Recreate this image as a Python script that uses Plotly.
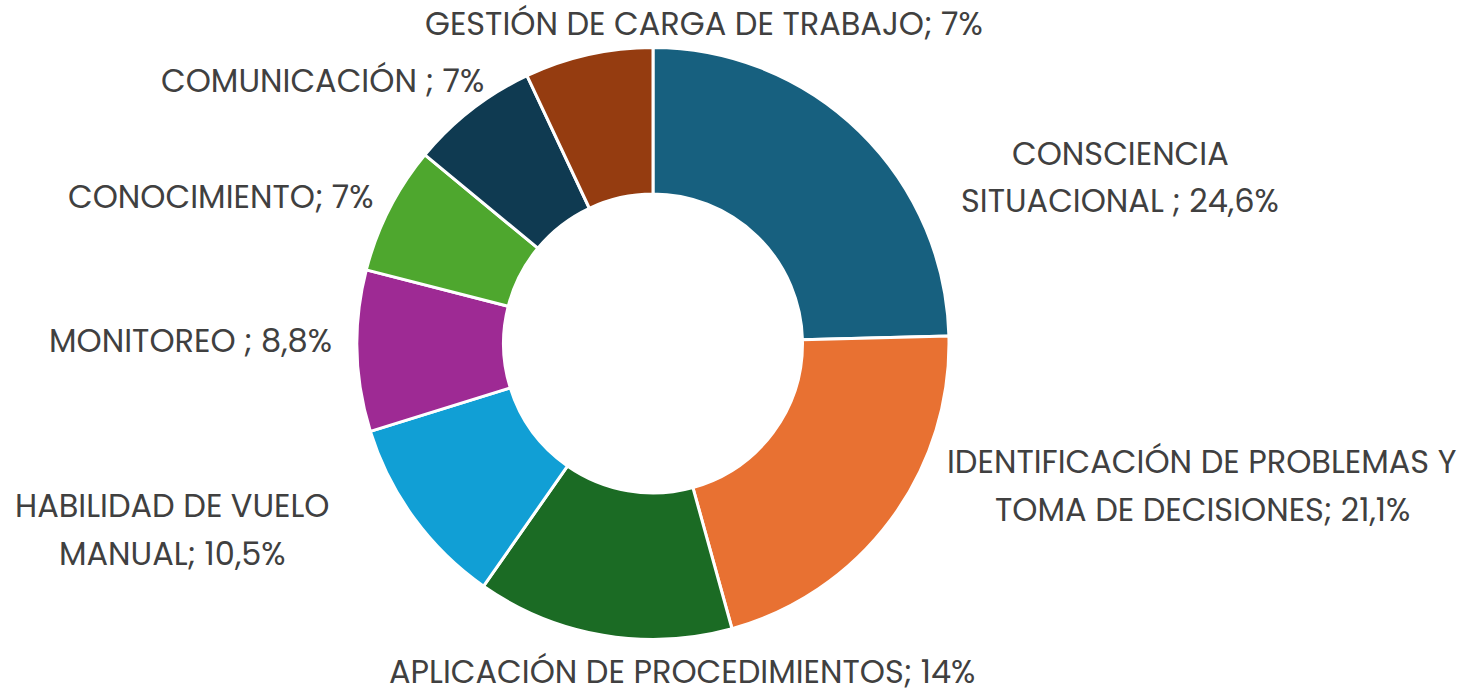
import plotly.graph_objects as go

categories = [
    "CONSCIENCIA<br>SITUACIONAL ",
    "IDENTIFICACIÓN DE PROBLEMAS Y<br>TOMA DE DECISIONES",
    "APLICACIÓN DE PROCEDIMIENTOS",
    "HABILIDAD DE VUELO<br>MANUAL",
    "MONITOREO ",
    "CONOCIMIENTO",
    "COMUNICACIÓN ",
    "GESTIÓN DE CARGA DE TRABAJO",
]
values = [24.6, 21.1, 14.0, 10.5, 8.8, 7.0, 7.0, 7.0]
colors = ["#17607F", "#E87132", "#1B6B24", "#119FD5", "#9E2A94", "#4EA72E", "#0F3A51", "#953C10"]

# label anchor positions in pixels (center x, first-line y)
label_x = [1120, 1202, 682, 172, 190, 221, 322, 704]
label_y = [153, 462, 671, 505, 340, 196, 80, 24]
LINE_STEP = 48

W, H = 1461, 689

def fmt(v):
    s = f"{v:.1f}"
    if s.endswith(".0"):
        s = s[:-2]
    return s.replace(".", ",") + "%"

fig = go.Figure(go.Pie(
    labels=categories,
    values=values,
    hole=0.505,
    sort=False,
    direction="clockwise",
    rotation=0,
    marker=dict(colors=colors, line=dict(color="white", width=3)),
    textinfo="none",
    hoverinfo="label+percent",
    showlegend=False,
    domain=dict(x=[357 / W, 949 / W], y=[49 / H, 642 / H]),
))

for c, v, x, y in zip(categories, values, label_x, label_y):
    lines = c.split("<br>")
    lines[-1] = lines[-1] + "; " + fmt(v)
    for i, line in enumerate(lines):
        fig.add_annotation(
            x=x / W, y=1 - (y + i * LINE_STEP) / H, xref="paper", yref="paper",
            text=line,
            showarrow=False, xanchor="center", yanchor="middle",
            font=dict(family="Poppins, Open Sans, sans-serif", size=32, color="#404040"),
            align="center",
        )

fig.update_layout(
    width=W, height=H,
    margin=dict(l=0, r=0, t=0, b=0),
    paper_bgcolor="white",
    plot_bgcolor="white",
)

fig.write_html(
    "out.html",
    config={"displayModeBar": False},
    post_script="document.body.style.margin='0';document.body.style.overflow='hidden';",
)
